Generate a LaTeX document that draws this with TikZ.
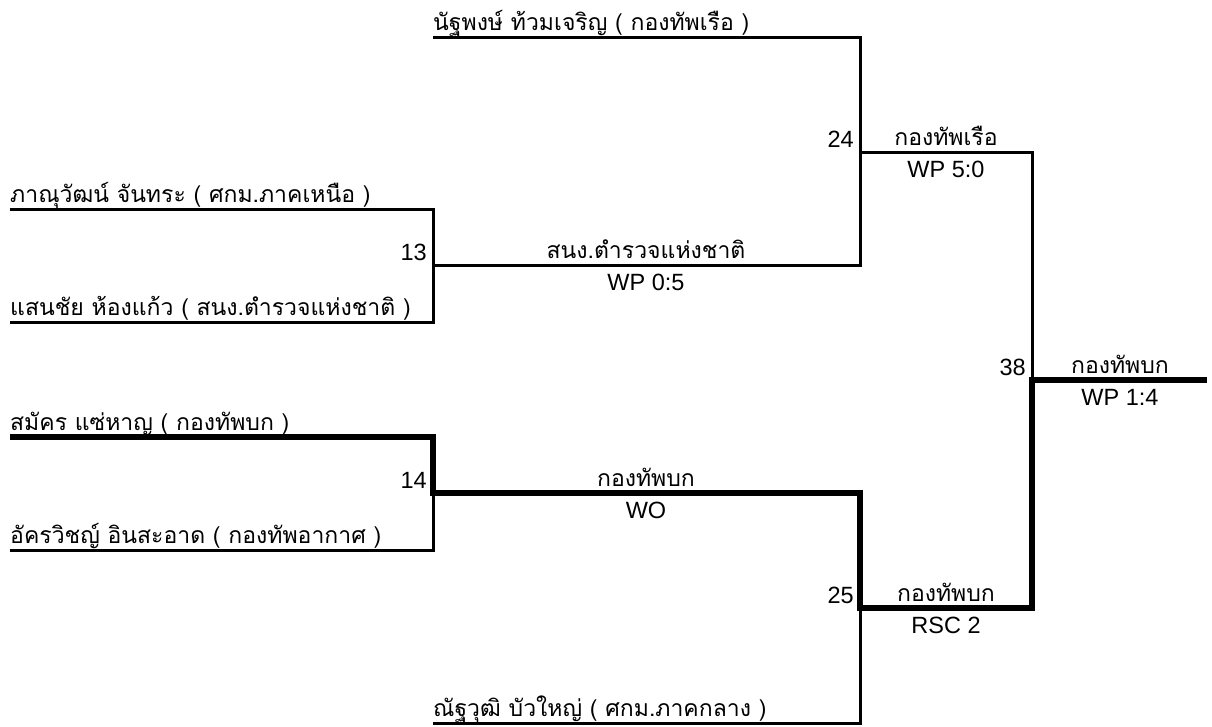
\documentclass[tikz,border=0pt]{standalone}
\usepackage{fontspec}
\setmainfont{Liberation Sans}
\newfontfamily\thaifont[Script=Thai]{Loma}
\usetikzlibrary{positioning}

\tikzset{
  loserline/.style={line width=3pt, line join=miter},
  winnerline/.style={line width=5.5pt, line join=miter},
  player/.style={anchor=base west, inner sep=0pt, font=\thaifont\fontsize{23}{27}\selectfont},
  bout/.style={anchor=base east, inner sep=0pt, font=\fontsize{23.5}{27}\selectfont},
  team/.style={anchor=base, inner sep=0pt, font=\thaifont\fontsize{23}{27}\selectfont},
  score/.style={anchor=base, inner sep=0pt, font=\fontsize{23.5}{27}\selectfont}
}

\begin{document}
\begin{tikzpicture}[x=1pt, y=-1pt]
    \useasboundingbox (0,0) rectangle (1212,726);
    % Puncte de start
    \coordinate (s0) at (433,37);
    \coordinate (s1) at (10,209);
    \coordinate (s2) at (10,322);
    \coordinate (s3) at (10,437);
    \coordinate (s4) at (10,550);
    \coordinate (s5) at (433,723);
    % Colturile
    \coordinate (j13a) at (433,209);
    \coordinate (j13b) at (433,322);
    \coordinate (j14a) at (433,437);
    \coordinate (j14b) at (433,550);
    \coordinate (j24a) at (860,37);
    \coordinate (j25b) at (860,723);
    % Meciuri
    \coordinate (m13) at (433,265);
    \coordinate (w13) at (860,265);
    \coordinate (m14) at (433,493);
    \coordinate (w14) at (860,493);
    \coordinate (m24) at (860,152);
    \coordinate (w24) at (1032,152);
    \coordinate (m25) at (860,608);
    \coordinate (w25) at (1032,608);
    \coordinate (m38) at (1032,380);
    \coordinate (w38) at (1207,380);
    % Liniile pierzatorilor
    \draw[loserline] (s0) -- (j24a) -- (w13) -- (m13);
    \draw[loserline] (s1) -- (j13a) -- (j13b) -- (s2);
    \draw[loserline] (s4) -- (j14b) -- (m14);
    \draw[loserline] (s5) -- (j25b) -- (m25);
    \draw[loserline] (m24) -- (w24) -- (m38);
    % Drumul castigatorului
    \draw[winnerline] (s3) -- (j14a) -- (m14) -- (w14) -- (m25) -- (w25) -- (m38) -- (w38);
    % Sportivi
    \node[player] (p0) at (433,30) {นัฐพงษ์ ท้วมเจริญ ( กองทัพเรือ )};
    \node[player] (p1) at (10,202) {ภาณุวัฒน์ จันทระ ( ศกม.ภาคเหนือ )};
    \node[player] (p2) at (10,315) {แสนชัย ห้องแก้ว ( สนง.ตำรวจแห่งชาติ )};
    \node[player] (p3) at (10,430) {สมัคร แซ่หาญ ( กองทัพบก )};
    \node[player] (p4) at (10,543) {อัครวิชญ์ อินสะอาด ( กองทัพอากาศ )};
    \node[player] (p5) at (433,716) {ณัฐวุฒิ บัวใหญ่ ( ศกม.ภาคกลาง )};
    % Numerele meciurilor
    \node[bout] (b13) at (427,260) {13};
    \node[bout] (b14) at (427,488) {14};
    \node[bout] (b24) at (854,147) {24};
    \node[bout] (b25) at (854,603) {25};
    \node[bout] (b38) at (1026,375) {38};
    % Castigatori si scoruri
    \node[team] (t13) at (646,258) {สนง.ตำรวจแห่งชาติ};
    \node[score] (r13) at (646,290) {WP 0:5};
    \node[team] (t14) at (646,486) {กองทัพบก};
    \node[score] (r14) at (646,518) {WO};
    \node[team] (t24) at (946,145) {กองทัพเรือ};
    \node[score] (r24) at (946,177) {WP 5:0};
    \node[team] (t25) at (946,601) {กองทัพบก};
    \node[score] (r25) at (946,633) {RSC 2};
    \node[team] (t38) at (1120,373) {กองทัพบก};
    \node[score] (r38) at (1120,405) {WP 1:4};
\end{tikzpicture}
\end{document}
